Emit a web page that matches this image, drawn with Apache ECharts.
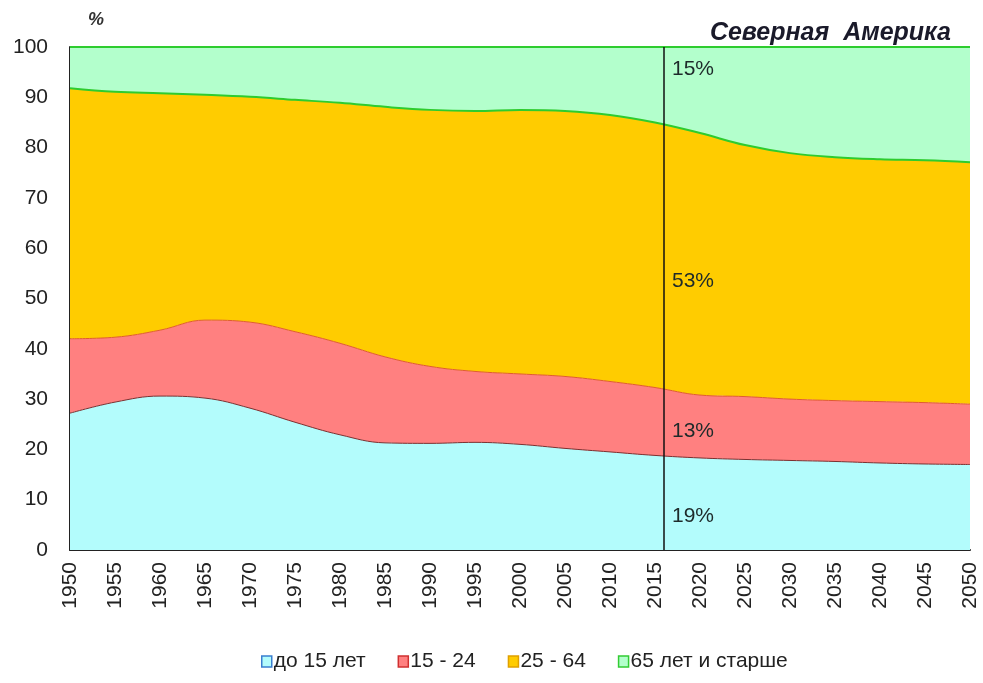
<!DOCTYPE html>
<html>
<head>
<meta charset="utf-8">
<script src="https://cdn.jsdelivr.net/npm/echarts@6/dist/echarts.min.js"></script>
<style>
  html, body { margin: 0; padding: 0; background: #fff; }
  #chart { width: 983px; height: 683px; }
</style>
</head>
<body>
<div id="chart"></div>
<script>
// годы
var years = ['1950', '1955', '1960', '1965', '1970', '1975', '1980', '1985', '1990', '1995', '2000',
             '2005', '2010', '2015', '2020', '2025', '2030', '2035', '2040', '2045', '2050'];
// доли возрастных групп, %
var under15 = [27.2, 29.4, 30.6, 30.2, 28.2, 25.4, 22.9, 21.3, 21.2, 21.4, 21.0,
               20.2, 19.5, 18.8, 18.3, 18.0, 17.8, 17.6, 17.3, 17.1, 17.0];
var age15_24 = [14.8, 12.9, 13.1, 15.5, 17.1, 18.0, 18.2, 17.1, 15.3, 14.1, 14.0,
                14.3, 14.0, 13.5, 12.5, 12.5, 12.2, 12.1, 12.2, 12.2, 12.0];
var age25_64 = [49.8, 48.8, 47.1, 44.8, 44.8, 46.1, 47.8, 49.7, 51.0, 51.8, 52.5,
                52.8, 53.0, 52.7, 52.1, 50.0, 48.9, 48.4, 48.2, 48.2, 48.1];
var age65 = [8.2, 8.9, 9.2, 9.5, 9.9, 10.5, 11.1, 11.9, 12.5, 12.7, 12.5,
             12.7, 13.5, 15.0, 17.1, 19.5, 21.1, 21.9, 22.3, 22.5, 22.9];
var names = ['до 15 лет', '15 - 24', '25 - 64', '65 лет и старше'];
// текущий год (вертикальная линия)
var nowLine = [[2016, 0], [2016, 100]];
var shares = ['19%', '13%', '53%', '15%'];

var chart = echarts.init(document.getElementById('chart'));
var font = 'Liberation Sans, Arial, sans-serif';

function area(i, data, fill, line, lw) {
  return {
    name: names[i], type: 'line', stack: 'all', smooth: 0.4, symbol: 'none',
    data: data,
    lineStyle: { color: line, width: lw },
    itemStyle: { color: fill },
    areaStyle: { color: fill, opacity: 1 },
    emphasis: { disabled: true },
    z: 2
  };
}

function pct(text, top) {
  return { type: 'text', z: 100, left: 672, top: top, style: { text: text, font: '21px ' + font, fill: '#1e2a2a' } };
}

var option = {
  animation: false,
  title: {
    text: 'Северная  Америка',
    right: 27,
    top: 16,
    textStyle: { fontFamily: font, fontSize: 25, fontWeight: 'bold', fontStyle: 'italic', color: '#1a1a2a' }
  },
  legend: {
    bottom: 6,
    left: 256,
    icon: 'rect',
    itemWidth: 10,
    itemHeight: 11,
    itemGap: 32,
    textStyle: { fontFamily: font, fontSize: 21, color: '#222', padding: [0, 0, 0, -3] },
    data: [
      { name: names[0], itemStyle: { color: '#b3fcfc', borderColor: '#3a7fd0', borderWidth: 1.5 } },
      { name: names[1], itemStyle: { color: '#ff8080', borderColor: '#d03030', borderWidth: 1.5 } },
      { name: names[2], itemStyle: { color: '#ffcc00', borderColor: '#e0a000', borderWidth: 1.5 } },
      { name: names[3], itemStyle: { color: '#b3ffcc', borderColor: '#33cc33', borderWidth: 1.5 } }
    ]
  },
  grid: { left: 70, right: 13, top: 47, bottom: 133 },
  xAxis: [{
    type: 'category',
    data: years,
    boundaryGap: false,
    axisLine: { show: true, lineStyle: { color: '#222', width: 2 } },
    axisTick: { show: false },
    splitLine: { show: false },
    axisLabel: { rotate: 90, margin: 12, fontFamily: font, fontSize: 21, color: '#222', interval: 0 }
  }, {
    type: 'value',
    min: 1950,
    max: 2050,
    show: false
  }],
  yAxis: {
    type: 'value',
    min: 0,
    max: 100,
    interval: 10,
    axisLine: { show: true, lineStyle: { color: '#222', width: 2 } },
    axisTick: { show: false },
    splitLine: { show: false },
    axisLabel: { margin: 22, fontFamily: font, fontSize: 21, color: '#222' }
  },
  graphic: [
    { type: 'text', z: 100, left: 88, top: 11, style: { text: '%', font: 'bold italic 18px ' + font, fill: '#333' } },
    pct(shares[3], 59),
    pct(shares[2], 271),
    pct(shares[1], 421),
    pct(shares[0], 506)
  ],
  series: [
    area(0, under15, '#b3fcfc', '#7a3030', 1),
    area(1, age15_24, '#ff8080', '#e05a30', 1),
    area(2, age25_64, '#ffcc00', '#2ecc2e', 2),
    area(3, age65, '#b3ffcc', '#2ecc2e', 2),
    {
      name: 'now', type: 'line', xAxisIndex: 1, symbol: 'none', silent: true,
      data: nowLine,
      lineStyle: { color: '#111', width: 1.5 },
      z: 5
    }
  ]
};
chart.setOption(option);
</script>
</body>
</html>
